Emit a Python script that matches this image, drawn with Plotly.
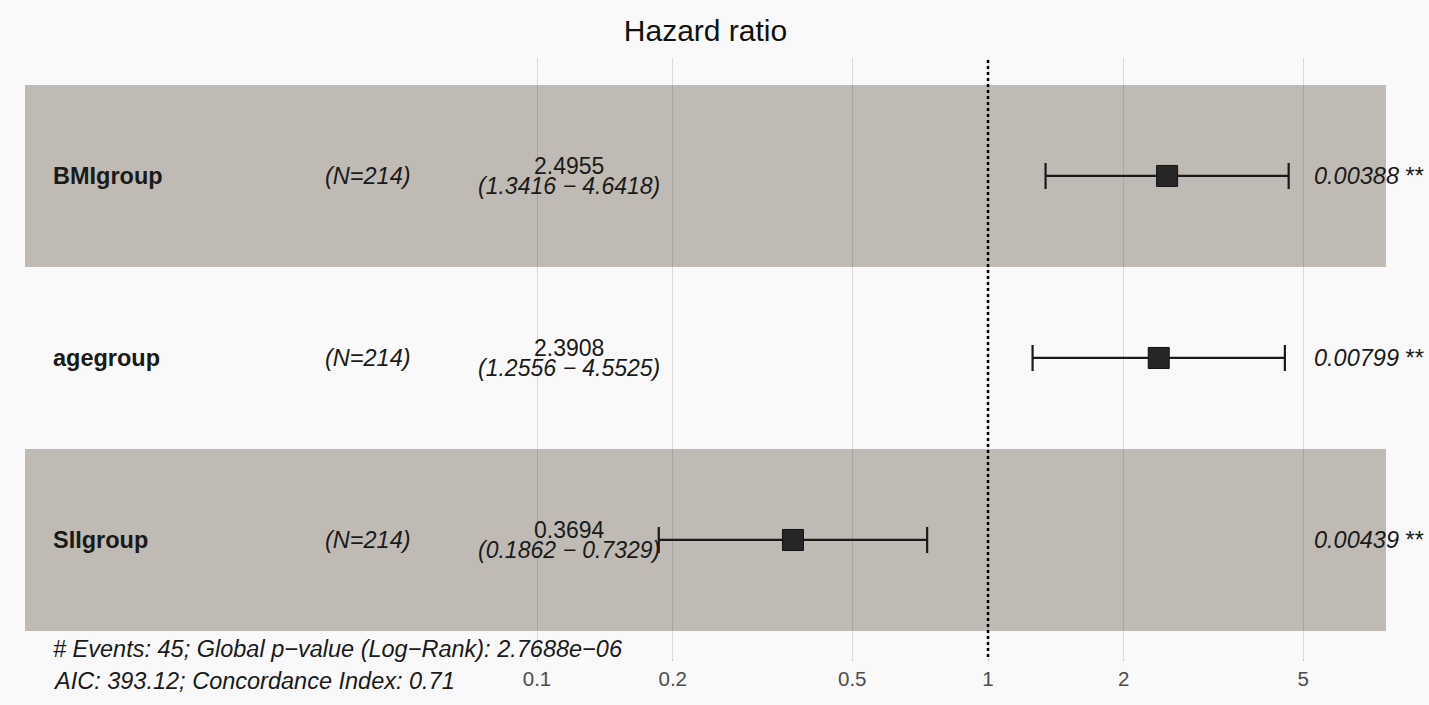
import plotly.graph_objects as go

# ---- data ----
variables = ["BMIgroup", "agegroup", "SIIgroup"]
n_labels = ["(N=214)", "(N=214)", "(N=214)"]
hr = [2.4955, 2.3908, 0.3694]
ci_low = [1.3416, 1.2556, 0.1862]
ci_high = [4.6418, 4.5525, 0.7329]
p_values = ["0.00388", "0.00799", "0.00439"]
p_stars = ["**", "**", "**"]
row_pos = [3, 2, 1]
tick_vals = [0.1, 0.2, 0.5, 1, 2, 5]
tick_text = ["0.1", "0.2", "0.5", "1", "2", "5"]
footer_lines = [
    "# Events: 45; Global p\u2212value (Log\u2212Rank): 2.7688e\u221206",
    "AIC: 393.12; Concordance Index: 0.71",
]

W, H = 1429, 705
FONT = "Liberation Sans, Arial, sans-serif"
M_T, M_B = 58, 48
PLOT_H = H - M_T - M_B

# layout geometry (log10 units of the x axis)
x_range = [-2.1353, 0.8825]
y_range = [0.357, 3.648]
x_name = -2.0772
x_n = -1.3758
x_hr = -0.929
x_p = 0.7184


def paper_y(ypix):
    return (H - M_B - ypix) / PLOT_H


fig = go.Figure()

# shaded bands for alternating rows
for i, y in enumerate(row_pos):
    if i % 2 == 0:
        fig.add_shape(type="rect", xref="x domain", yref="y", x0=0, x1=1,
                      y0=y - 0.5, y1=y + 0.5, fillcolor="#bfbab4",
                      line=dict(width=0), layer="below")

# reference line at HR = 1
fig.add_shape(type="line", xref="x", yref="y domain", x0=1, x1=1, y0=0, y1=1,
              line=dict(color="black", width=2.5, dash="dot"), layer="above")

# estimates with CIs
fig.add_trace(go.Scatter(
    x=hr, y=row_pos, mode="markers",
    marker=dict(symbol="square", size=21, color="#262626",
                line=dict(color="#111111", width=1)),
    error_x=dict(type="data", symmetric=False,
                 array=[h - e for h, e in zip(ci_high, hr)],
                 arrayminus=[e - l for e, l in zip(hr, ci_low)],
                 color="#1a1a1a", thickness=2.2, width=13),
    hoverinfo="skip", showlegend=False,
))

TXT = "#1a1a1a"
ann = []
for v, n, e, lo, hi, p, s, y in zip(variables, n_labels, hr, ci_low, ci_high,
                                    p_values, p_stars, row_pos):
    ann.append(dict(x=x_name, y=y, xref="x", yref="y", text=f"<b>{v}</b>",
                    showarrow=False, xanchor="left", yanchor="middle",
                    font=dict(size=23.5, color=TXT, family=FONT)))
    ann.append(dict(x=x_n, y=y, xref="x", yref="y", text=f"<i>{n}</i>",
                    showarrow=False, xanchor="center", yanchor="middle",
                    font=dict(size=23.5, color=TXT, family=FONT)))
    ann.append(dict(x=x_hr, y=y, xref="x", yref="y", text=f"{e:.4f}",
                    showarrow=False, xanchor="center", yanchor="middle", yshift=10,
                    font=dict(size=23, color=TXT, family=FONT)))
    ann.append(dict(x=x_hr, y=y, xref="x", yref="y",
                    text=f"<i>({lo:.4f} \u2212 {hi:.4f})</i>",
                    showarrow=False, xanchor="center", yanchor="middle", yshift=-10,
                    font=dict(size=23, color=TXT, family=FONT)))
    ann.append(dict(x=x_p, y=y, xref="x", yref="y",
                    text=f"<i>{p}</i> {s}",
                    showarrow=False, xanchor="left", yanchor="middle",
                    font=dict(size=23.5, color=TXT, family=FONT)))

footer_pix = [649, 681]
for t, fy in zip(footer_lines, footer_pix):
    ann.append(dict(x=x_name, y=paper_y(fy), xref="x", yref="paper", text=f"<i>{t}</i>",
                    showarrow=False, xanchor="left", yanchor="middle",
                    font=dict(size=23.5, color=TXT, family=FONT)))

fig.update_layout(
    width=W, height=H,
    margin=dict(l=25, r=43, t=M_T, b=M_B),
    paper_bgcolor="#f9f9f9", plot_bgcolor="rgba(0,0,0,0)",
    title=dict(text="Hazard ratio", x=0.5, xref="paper", xanchor="center",
               y=1 - 30 / H, yref="container", yanchor="middle",
               font=dict(size=30, color="#111111", family=FONT)),
    annotations=ann,
    font=dict(family=FONT),
)
fig.update_xaxes(type="log", range=x_range, tickvals=tick_vals, ticktext=tick_text,
                 showgrid=True, gridcolor="rgba(90,90,90,0.2)", gridwidth=1,
                 ticks="outside", ticklen=3, tickcolor="rgba(90,90,90,0.3)",
                 tickfont=dict(size=20.5, color="#4d4d4d", family=FONT),
                 zeroline=False, showline=False, fixedrange=True)
fig.update_yaxes(range=y_range, showgrid=False, showticklabels=False, zeroline=False,
                 showline=False, fixedrange=True)

fig.write_html("out.html", config={"displayModeBar": False},
               post_script="document.body.style.margin='0';document.body.style.background='#f9f9f9';")
